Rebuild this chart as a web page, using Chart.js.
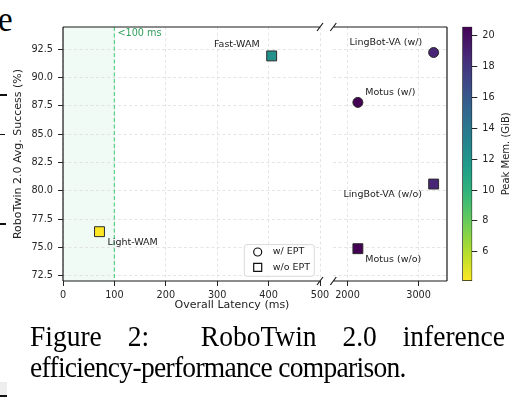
<!DOCTYPE html>
<html>
<head>
<meta charset="utf-8">
<title>RoboTwin 2.0 latency vs success</title>
<script src="https://cdn.jsdelivr.net/npm/chart.js@4.4.1/dist/chart.umd.min.js"></script>
<style>
  html, body { margin: 0; padding: 0; background: #fff; }
  body { position: relative; width: 532px; height: 403px; overflow: hidden; }
  canvas { position: absolute; top: 0; }
  #left { left: 0; }
  #right { left: 325px; }
  #cbar { left: 440px; }
  .xtitle { position: absolute; left: 232px; top: 297.5px; transform: translateX(-50%);
            font: 11px 'DejaVu Sans', sans-serif; line-height: 13px; color: #222; white-space: nowrap; }
  .serif { position: absolute; font-family: 'Liberation Serif', 'Times New Roman', serif; color: #000;
           white-space: nowrap; transform-origin: 0 0; transform: scaleY(1.1); }
  .cap { left: 30px; width: 475px; font-size: 27.5px; line-height: 28px; }
  .justify { text-align: justify; text-align-last: justify; }
  .mark { position: absolute; left: 0; height: 1.6px; background: #111; }
</style>
</head>
<body>
<div class="serif" style="left:-2px; top:1px; font-size:33px; line-height:32px;">e</div>
<div class="mark" style="top:94px; width:7px;"></div>
<div class="mark" style="top:133.5px; width:5px;"></div>
<div class="mark" style="top:223px; width:6px;"></div>
<div style="position:absolute; left:0; top:382px; width:7px; height:13px; background:#eee;"></div>
<div class="mark" style="top:395px; width:7px;"></div>

<canvas id="left" width="340" height="312"></canvas>
<canvas id="right" width="130" height="312"></canvas>
<canvas id="cbar" width="92" height="312"></canvas>
<div class="xtitle">Overall Latency (ms)</div>

<div class="serif cap justify" style="top:321.1px;">Figure 2:&nbsp; RoboTwin 2.0 inference</div>
<div class="serif cap" style="top:351.7px; letter-spacing:-0.7px;">efficiency-performance comparison.</div>

<script>
Chart.defaults.font.family = "'DejaVu Sans', sans-serif";
Chart.defaults.color = '#262626';

// ---- data ----
const models     = ['Fast-WAM', 'Light-WAM', 'LingBot-VA (w/)', 'Motus (w/)', 'LingBot-VA (w/o)', 'Motus (w/o)'];
const latencyMs  = [406, 71, 3212, 2146, 3212, 2146];
const successPct = [91.9, 76.4, 92.2, 87.8, 80.6, 74.9];
const peakMemGiB = [12.3, 4.1, 18.9, 20.6, 18.9, 20.6];
const withEPT    = [false, false, true, true, false, false];

const leftTicks    = [0, 100, 200, 300, 400, 500];
const rightTicks   = [2000, 3000];
const successTicks = [72.5, 75.0, 77.5, 80.0, 82.5, 85.0, 87.5, 90.0, 92.5];
const memTicks     = [6, 8, 10, 12, 14, 16, 18, 20];
const realtimeMs   = 100;

const leftRange  = [0, 500];
const rightRange = [1800, 3400];
const yRange     = [72.05, 94.45];

// where each name sits next to its marker (pixels)
const labelPos = {
  'Fast-WAM':         { dx: -12,  dy: -11,  align: 'right' },
  'Light-WAM':        { dx: 8,    dy: 10.7, align: 'left' },
  'LingBot-VA (w/)':  { dx: -11.4, dy: -9.6, align: 'right' },
  'Motus (w/)':       { dx: 7.4,  dy: -10.3, align: 'left' },
  'LingBot-VA (w/o)': { dx: -11.7, dy: 10.3, align: 'right' },
  'Motus (w/o)':      { dx: 7.4,  dy: 10.7, align: 'left' }
};

const gridColor = '#dedede';
const tickFont = { size: 9.7 };

// viridis, reversed on the memory scale (more memory = darker)
const VIRIDIS = ['#440154', '#482878', '#3e4989', '#31688e', '#26828e', '#1f9e89', '#35b779', '#6ece58', '#b5de2b', '#fde725'];
function viridis(t) {
  t = Math.min(1, Math.max(0, t)) * (VIRIDIS.length - 1);
  var i = Math.min(Math.floor(t), VIRIDIS.length - 2), f = t - i;
  var a = VIRIDIS[i], b = VIRIDIS[i + 1];
  var c = [1, 3, 5].map(function(k) {
    var p = parseInt(a.substr(k, 2), 16), q = parseInt(b.substr(k, 2), 16);
    return Math.round(p + (q - p) * f);
  });
  return 'rgb(' + c.join(',') + ')';
}
const memMin = Math.min.apply(null, peakMemGiB);
const memMax = Math.max.apply(null, peakMemGiB);
function memColor(v) { return viridis((memMax - v) / (memMax - memMin)); }

function panelSets(lo, hi) {
  var pick = function(ept) {
    return latencyMs.map(function(x, i) { return { x: x, y: successPct[i], i: i }; })
      .filter(function(p) { return p.x >= lo && p.x <= hi && withEPT[p.i] === ept; });
  };
  var base = {
    showLine: false,
    pointBorderColor: '#2b2b2b',
    pointBorderWidth: 1,
    pointBackgroundColor: function(c) { return c.raw ? memColor(peakMemGiB[c.raw.i]) : '#fff'; }
  };
  return [
    Object.assign({ label: 'w/ EPT', data: pick(true), pointStyle: 'circle', pointRadius: 5 }, base),
    Object.assign({ label: 'w/o EPT', data: pick(false), pointStyle: 'rect', pointRadius: 7 }, base)
  ];
}

function xAxis(range, ticks) {
  return {
    type: 'linear', min: range[0], max: range[1],
    afterBuildTicks: function(s) { s.ticks = ticks.map(function(v) { return { value: v }; }); },
    afterFit: function(s) { s.height = 31; },
    ticks: { font: tickFont, padding: 4, maxRotation: 0, autoSkip: false, callback: function(v) { return String(v); } },
    grid: { color: gridColor, lineWidth: 0.8, tickLength: 5, tickColor: '#262626', tickWidth: 1 },
    border: { display: false, dash: [3, 2.5] }
  };
}

function yAxis(showTicks) {
  return {
    type: 'linear', min: yRange[0], max: yRange[1],
    afterBuildTicks: function(s) { s.ticks = successTicks.map(function(v) { return { value: v }; }); },
    afterFit: function(s) { s.width = showTicks ? 63 : 0; },
    ticks: { display: showTicks, font: tickFont, padding: 5, callback: function(v) { return v.toFixed(1); } },
    grid: { color: gridColor, lineWidth: 0.8, drawTicks: showTicks, tickLength: 5, tickColor: '#262626', tickWidth: 1 },
    border: { display: false, dash: [3, 2.5] },
    title: { display: showTicks, text: 'RoboTwin 2.0 Avg. Success (%)', font: { size: 11 }, color: '#222', padding: { top: 11.4, bottom: 0 } }
  };
}

const pointLabels = {
  id: 'pointLabels',
  afterDatasetsDraw: function(chart) {
    var ctx = chart.ctx;
    ctx.save();
    ctx.font = "9.5px 'DejaVu Sans'";
    ctx.fillStyle = '#222';
    ctx.textBaseline = 'middle';
    chart.data.datasets.forEach(function(ds, k) {
      chart.getDatasetMeta(k).data.forEach(function(el, j) {
        var name = models[ds.data[j].i], p = labelPos[name];
        ctx.textAlign = p.align;
        ctx.fillText(name, el.x + p.dx, el.y + p.dy);
      });
    });
    ctx.restore();
  }
};

// axes spines + the // marks of the broken x axis
const frame = {
  id: 'frame',
  afterDraw: function(chart, args, opts) {
    var ctx = chart.ctx, a = chart.chartArea;
    ctx.save();
    ctx.strokeStyle = '#1a1a1a';
    ctx.lineWidth = 1.2;
    ctx.beginPath();
    opts.sides.forEach(function(s) {
      if (s === 'left')   { ctx.moveTo(a.left, a.top);  ctx.lineTo(a.left, a.bottom); }
      if (s === 'right')  { ctx.moveTo(a.right, a.top); ctx.lineTo(a.right, a.bottom); }
      if (s === 'top')    { ctx.moveTo(a.left, a.top);  ctx.lineTo(a.right, a.top); }
      if (s === 'bottom') { ctx.moveTo(a.left, a.bottom); ctx.lineTo(a.right, a.bottom); }
    });
    var bx = opts.breakAt === 'right' ? a.right : a.left;
    [a.top, a.bottom].forEach(function(by) {
      ctx.moveTo(bx - 3, by + 4);
      ctx.lineTo(bx + 3, by - 4);
    });
    ctx.stroke();
    ctx.restore();
  }
};

const realtimeZone = {
  id: 'realtimeZone',
  beforeDraw: function(chart) {
    var ctx = chart.ctx, a = chart.chartArea, x = chart.scales.x;
    var x0 = x.getPixelForValue(leftRange[0]), x1 = x.getPixelForValue(realtimeMs);
    ctx.save();
    ctx.fillStyle = 'rgba(46, 204, 113, 0.08)';
    ctx.fillRect(x0, a.top, x1 - x0, a.bottom - a.top);
    ctx.restore();
  },
  beforeDatasetsDraw: function(chart) {
    var ctx = chart.ctx, a = chart.chartArea, x = chart.scales.x;
    var x1 = x.getPixelForValue(realtimeMs);
    ctx.save();
    ctx.strokeStyle = '#5fd38d';
    ctx.lineWidth = 1.3;
    ctx.setLineDash([4, 2.5]);
    ctx.beginPath();
    ctx.moveTo(x1, a.top);
    ctx.lineTo(x1, a.bottom);
    ctx.stroke();
    ctx.fillStyle = '#2e9e5a';
    ctx.font = "9.7px 'DejaVu Sans'";
    ctx.textBaseline = 'middle';
    ctx.textAlign = 'left';
    ctx.fillText('<' + realtimeMs + ' ms', x1 + 3, a.top + 6.7);
    ctx.restore();
  }
};

const eptLegend = {
  id: 'eptLegend',
  afterDraw: function(chart) {
    var ctx = chart.ctx, a = chart.chartArea;
    var w = 70, h = 31.7, x0 = a.right - 5.7 - w, y0 = a.bottom - 4.7 - h;
    ctx.save();
    ctx.fillStyle = 'rgba(255,255,255,0.85)';
    ctx.strokeStyle = '#cfcfcf';
    ctx.lineWidth = 0.8;
    ctx.beginPath();
    ctx.roundRect(x0, y0, w, h, 2.5);
    ctx.fill();
    ctx.stroke();
    chart.data.datasets.forEach(function(ds, k) {
      var cx = x0 + 13.4, cy = y0 + 7.4 + k * 15.3;
      ctx.fillStyle = '#fff';
      ctx.strokeStyle = '#111';
      ctx.lineWidth = 1.2;
      ctx.beginPath();
      if (ds.pointStyle === 'circle') ctx.arc(cx, cy, 4, 0, 2 * Math.PI);
      else ctx.rect(cx - 4, cy - 4, 8, 8);
      ctx.fill();
      ctx.stroke();
      ctx.fillStyle = '#222';
      ctx.font = "9.5px 'DejaVu Sans'";
      ctx.textBaseline = 'middle';
      ctx.textAlign = 'left';
      ctx.fillText(ds.label, x0 + 28.4, cy);
    });
    ctx.restore();
  }
};

const common = {
  responsive: false,
  devicePixelRatio: 1,
  animation: false,
  events: [],
  plugins: { legend: { display: false }, tooltip: { enabled: false } }
};

new Chart(document.getElementById('left'), {
  type: 'scatter',
  data: { datasets: panelSets(leftRange[0], leftRange[1]) },
  options: Object.assign({}, common, {
    layout: { padding: { top: 27, right: 20, bottom: 0, left: 0 } },
    scales: { x: xAxis(leftRange, leftTicks), y: yAxis(true) },
    plugins: Object.assign({}, common.plugins, { frame: { sides: ['left', 'top', 'bottom'], breakAt: 'right' } })
  }),
  plugins: [realtimeZone, pointLabels, frame, eptLegend]
});

new Chart(document.getElementById('right'), {
  type: 'scatter',
  data: { datasets: panelSets(rightRange[0], rightRange[1]) },
  options: Object.assign({}, common, {
    layout: { padding: { top: 27, right: 5.7, bottom: 0, left: 8.3 } },
    scales: { x: xAxis(rightRange, rightTicks), y: yAxis(false) },
    plugins: Object.assign({}, common.plugins, { frame: { sides: ['right', 'top', 'bottom'], breakAt: 'left' } })
  }),
  plugins: [pointLabels, frame]
});

// colour bar: one floating bar spanning the memory range, filled with the colormap
const cbarTitle = {
  id: 'cbarTitle',
  afterDraw: function(chart) {
    var ctx = chart.ctx, a = chart.chartArea;
    ctx.save();
    ctx.translate(66.7, (a.top + a.bottom) / 2);
    ctx.rotate(-Math.PI / 2);
    ctx.font = "10px 'DejaVu Sans'";
    ctx.fillStyle = '#222';
    ctx.textAlign = 'center';
    ctx.textBaseline = 'middle';
    ctx.fillText('Peak Mem. (GiB)', 0, 0);
    ctx.restore();
  }
};

new Chart(document.getElementById('cbar'), {
  type: 'bar',
  data: {
    labels: ['Peak Mem. (GiB)'],
    datasets: [{
      data: [[memMin, memMax]],
      barPercentage: 1,
      categoryPercentage: 1,
      borderColor: '#1a1a1a',
      borderWidth: 1,
      borderSkipped: false,
      backgroundColor: function(c) {
        var a = c.chart.chartArea;
        if (!a) return '#888';
        var g = c.chart.ctx.createLinearGradient(0, a.bottom, 0, a.top);
        for (var k = 0; k <= 20; k++) g.addColorStop(k / 20, viridis(1 - k / 20));
        return g;
      }
    }]
  },
  options: Object.assign({}, common, {
    layout: { padding: { top: 26.7, right: 0, bottom: 31, left: 22.3 } },
    scales: {
      x: { display: false },
      y: {
        position: 'right', min: memMin, max: memMax,
        afterBuildTicks: function(s) { s.ticks = memTicks.map(function(v) { return { value: v }; }); },
        afterFit: function(s) { s.width = 59.7; },
        ticks: { font: tickFont, padding: 5 },
        grid: { drawOnChartArea: false, tickLength: 5, tickColor: '#262626', tickWidth: 1 },
        border: { display: false }
      }
    }
  }),
  plugins: [cbarTitle]
});
</script>
</body>
</html>
